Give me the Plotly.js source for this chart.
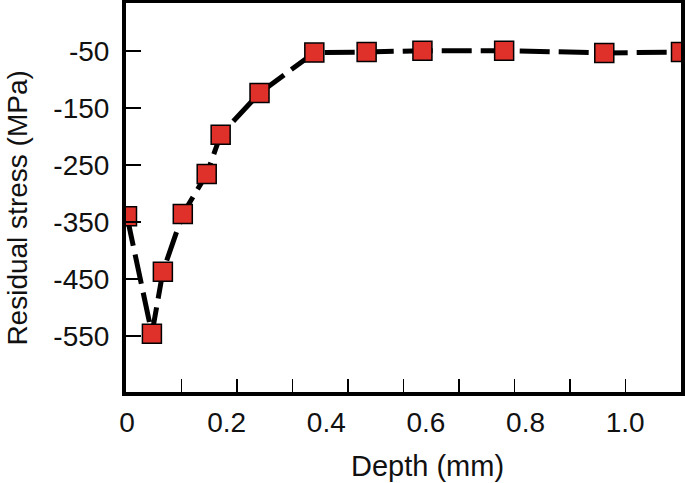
<!DOCTYPE html>
<html>
<head>
<meta charset="utf-8">
<script src="https://cdn.plot.ly/plotly-3.0.1.min.js"></script>
<style>html,body{margin:0;padding:0;background:#fff;}#chart{width:685px;height:483px;}</style>
</head>
<body>
<div id="chart"></div>
<script>
// Data
const depthMM = [0.0, 0.05, 0.072, 0.112, 0.16, 0.188, 0.266, 0.376, 0.481, 0.593, 0.757, 0.958, 1.112];
const stressMPa = [-340, -546, -437, -336, -266, -197, -124, -53, -52, -49.5, -49.5, -53.5, -52];
const xTickVals = [0, 0.2, 0.4, 0.6, 0.8, 1.0];
const xTickText = ['0', '0.2', '0.4', '0.6', '0.8', '1.0'];
const yTickVals = [-50, -150, -250, -350, -450, -550];
const yTickText = ['-50', '-150', '-250', '-350', '-450', '-550'];
const xTitle = 'Depth (mm)';
const yTitle = 'Residual stress (MPa)';

const FONT = 'Arial, "Liberation Sans", sans-serif';

const traces = [
  {
    x: depthMM, y: stressMPa, type: 'scatter', mode: 'lines+markers',
    line: {color: '#000', width: 5, dash: '30px,9px'},
    marker: {symbol: 'square', size: 19, color: '#e0302a', line: {color: '#000', width: 1.5}},
    cliponaxis: true, hoverinfo: 'skip', showlegend: false
  },
  {x: [], y: [], xaxis: 'x2', yaxis: 'y', type: 'scatter', mode: 'markers', showlegend: false, hoverinfo: 'skip'}
];

const layout = {
  width: 685, height: 483,
  margin: {l: 126, r: 4, t: 3, b: 91, pad: 0},
  paper_bgcolor: '#fff', plot_bgcolor: '#fff',
  font: {family: FONT, size: 28, color: '#111'},
  showlegend: false,
  xaxis: {
    range: [-0.002, 1.112],
    tickvals: xTickVals, ticktext: xTickText,
    ticks: '', showgrid: false, zeroline: false,
    showline: true, linecolor: '#000', linewidth: 4, mirror: true,
    tickfont: {family: FONT, size: 28, color: '#111'},
    ticklabelstandoff: 2
  },
  xaxis2: {
    overlaying: 'x', anchor: 'y', side: 'bottom',
    range: [0, 10], dtick: 1, tick0: 0,
    ticks: 'inside', ticklen: 13, tickwidth: 1.5, tickcolor: '#000',
    showticklabels: false, showgrid: false, zeroline: false, showline: false
  },
  yaxis: {
    range: [-648, 34],
    tickvals: yTickVals, ticktext: yTickText,
    ticks: 'inside', ticklen: 15, tickwidth: 2, tickcolor: '#000',
    ticklabelstandoff: 7,
    showgrid: false, zeroline: false,
    showline: true, linecolor: '#000', linewidth: 4, mirror: true,
    tickfont: {family: FONT, size: 28, color: '#111'}
  },
  annotations: [
    {text: xTitle, xref: 'paper', yref: 'paper', x: 0.544, y: -0.19, xanchor: 'center', yanchor: 'middle',
     showarrow: false, font: {family: FONT, size: 29, color: '#111'}},
    {text: yTitle, xref: 'paper', yref: 'paper', x: -0.1946, y: 0.474, xanchor: 'center', yanchor: 'middle',
     textangle: -90, showarrow: false, font: {family: FONT, size: 28, color: '#111'}}
  ]
};

Plotly.newPlot('chart', traces, layout, {staticPlot: true, displayModeBar: false});
</script>
</body>
</html>
